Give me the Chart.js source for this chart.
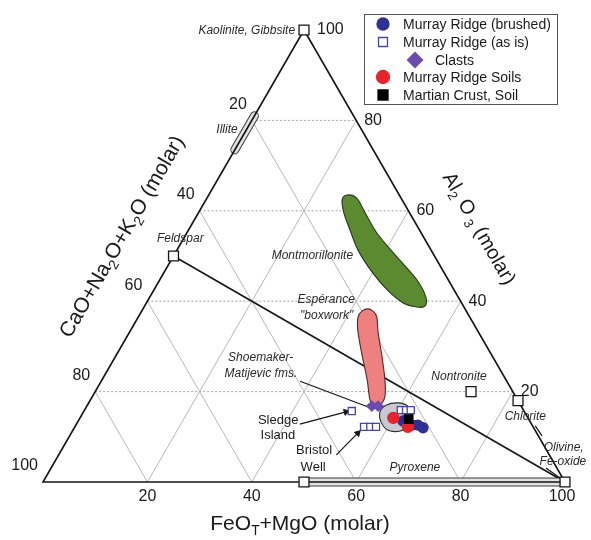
<!DOCTYPE html>
<html>
<head>
<meta charset="utf-8">
<script src="https://cdn.jsdelivr.net/npm/chart.js@4.4.1/dist/chart.umd.min.js"></script>
<style>
  body { margin: 0; background: #fff; }
  canvas { display: block; }
</style>
</head>
<body>
<canvas id="ternary" width="591" height="540"></canvas>
<script>
// every point is [FeOT+MgO, Al2O3] in molar %, CaO+Na2O+K2O is what is left
const gridSteps = [20, 40, 60, 80];
const tickValues = [20, 40, 60, 80, 100];

const murrayBrushed = [[62.2, 13.5], [64.4, 12.6], [65.5, 12.6], [66.8, 12.0]];
const murrayAsIs = [[51.3, 15.7], [55.4, 12.2], [56.6, 12.2], [57.7, 12.2], [60.6, 15.9], [61.6, 15.9], [62.5, 15.9]];
const clasts = [[54.6, 16.8], [55.8, 16.8]];
const soils = [[60.0, 14.2], [63.8, 12.2]];
const martianCrust = [[63.1, 13.9]];

// end members: kaolinite, feldspar, nontronite, chlorite, olivine, pyroxene (En/Fs)
const minerals = [[0, 100], [0, 50], [72, 20], [82, 18], [100, 0], [50, 0]];
const illiteRange = [[0, 73.5], [0, 81]];
const pyroxeneRange = [[50, 0], [100, 0]];
const feldsparOlivine = [[0, 50], [100, 0]];

const montmorillonite = [[26.1, 62.4], [26.5, 63.5], [28.7, 62.8], [31.8, 59.7], [36.4, 55.1], [42.9, 49.8],
  [49.3, 44.7], [52.9, 40.9], [53.7, 38.9], [52.3, 38.7], [49.2, 39.6], [44.7, 42.5], [40.1, 46.2],
  [34.7, 51.3], [30.9, 55.8], [27.9, 59.5]];
const esperance = [[43.1, 38.3], [44.3, 37.8], [45.7, 36.5], [47.7, 33.0], [51.1, 27.7], [54.2, 22.6],
  [55.9, 19.3], [56.2, 17.5], [55.1, 17.0], [53.6, 18.1], [50.8, 22.6], [46.8, 28.5], [43.5, 33.6],
  [42.1, 36.5], [42.2, 37.8]];
const murrayField = [[56.8, 15.5], [57.2, 17.0], [59.3, 17.5], [61.5, 16.8], [63.2, 15.0], [63.9, 12.8],
  [62.8, 11.3], [60.3, 11.5], [58.1, 13.3]];

const leaders = [
  [[38.1, 22.3], [54.0, 16.6]],
  [[42.8, 12.8], [50.3, 15.5]],
  [[53.2, 6.0], [54.9, 10.8]],
  [[88.1, 12.4], [90.5, 10.2]],
  [[94.8, 3.1], [98.6, 0.9]]
];
const arrowLeaders = [1, 2];

const notes = [
  { text: 'Kaolinite, Gibbsite', at: [-1.6, 99.8], align: 'right' },
  { text: 'Illite', at: [-3.7, 77.9] },
  { text: 'Feldspar', at: [-0.6, 53.8] },
  { text: 'Montmorillonite', at: [34.4, 50.0], align: 'right' },
  { text: 'Espérance', at: [34.1, 40.3] },
  { text: '"boxwork"', at: [36.0, 36.7] },
  { text: 'Shoemaker-', at: [28.0, 27.4] },
  { text: 'Matijevic fms.', at: [29.8, 23.9] },
  { text: 'Sledge', at: [38.2, 13.7], plain: true },
  { text: 'Island', at: [39.8, 10.4], plain: true },
  { text: 'Bristol', at: [48.5, 6.9], plain: true },
  { text: 'Well', at: [50.1, 3.3], plain: true },
  { text: 'Nontronite', at: [68.1, 23.2] },
  { text: 'Chlorite', at: [85.2, 14.4] },
  { text: 'Olivine,', at: [95.9, 7.7] },
  { text: 'Fe-oxide', at: [97.4, 4.4] },
  { text: 'Pyroxene', at: [69.7, 3.1] }
];

const FONT = 'Arial, "Liberation Sans", Helvetica, sans-serif';
const H = Math.sqrt(3) / 2;
const toXY = ([fm, al]) => ({ x: fm + al / 2, y: al * H });
const GAP = { x: null, y: null };

function segments(list) {
  const out = [];
  list.forEach(([a, b]) => out.push(toXY(a), toXY(b), GAP));
  return out;
}

const horizontal = segments(gridSteps.map(v => [[0, v], [100 - v, v]]));
const diagonal = segments(gridSteps.flatMap(v => [[[v, 0], [v, 100 - v]], [[100 - v, 0], [0, 100 - v]]]));

const arrowHeads = arrowLeaders.map(i => toXY(leaders[i][1]));
const arrowAngles = arrowLeaders.map(i => {
  const a = toXY(leaders[i][0]), b = toXY(leaders[i][1]);
  return Math.atan2(b.x - a.x, b.y - a.y) * 180 / Math.PI;
});

function lineSet(label, data, color, width, order, extra) {
  return Object.assign({ label, data, showLine: true, pointRadius: 0, borderColor: color,
    borderWidth: width, order, clip: false, spanGaps: false }, extra || {});
}

function pointSet(label, data, style, radius, fill, stroke, order) {
  return { label, data: data.map(toXY), pointStyle: style, pointRadius: radius,
    backgroundColor: fill, borderColor: stroke, borderWidth: 1.3, order, clip: false };
}

const pxOf = (chart, p) => {
  const q = toXY(p);
  return { x: chart.scales.x.getPixelForValue(q.x), y: chart.scales.y.getPixelForValue(q.y) };
};

function smoothShape(ctx, pts) {
  const n = pts.length;
  ctx.beginPath();
  ctx.moveTo(pts[0].x, pts[0].y);
  for (let i = 0; i < n; i++) {
    const p0 = pts[(i - 1 + n) % n], p1 = pts[i], p2 = pts[(i + 1) % n], p3 = pts[(i + 2) % n];
    ctx.bezierCurveTo(p1.x + (p2.x - p0.x) / 6, p1.y + (p2.y - p0.y) / 6,
      p2.x - (p3.x - p1.x) / 6, p2.y - (p3.y - p1.y) / 6, p2.x, p2.y);
  }
  ctx.closePath();
}

const fields = [
  { pts: montmorillonite, fill: '#5c8a30', stroke: '#26361a' },
  { pts: esperance, fill: '#ef8080', stroke: '#5a2626' },
  { pts: murrayField, fill: '#c9c9d2', stroke: '#2a2a2a' }
];

const fieldPlugin = {
  id: 'fields',
  afterDatasetDraw(chart, args) {
    if (chart.data.datasets[args.index].label !== 'mixing') return;
    const ctx = chart.ctx;
    ctx.save();
    fields.forEach(f => {
      smoothShape(ctx, f.pts.map(p => pxOf(chart, p)));
      ctx.fillStyle = f.fill;
      ctx.fill();
      ctx.lineWidth = 1.1;
      ctx.strokeStyle = f.stroke;
      ctx.stroke();
    });
    ctx.restore();
  }
};

function richText(ctx, parts, cx, cy, size, angle) {
  ctx.save();
  ctx.translate(cx, cy);
  ctx.rotate(angle);
  const sub = size * 0.66;
  let total = 0;
  const widths = parts.map(([t, s]) => {
    ctx.font = (s ? sub : size) + 'px ' + FONT;
    const w = ctx.measureText(t).width;
    total += w;
    return w;
  });
  let x = -total / 2;
  ctx.textAlign = 'left';
  ctx.textBaseline = 'alphabetic';
  ctx.fillStyle = '#1a1a1a';
  parts.forEach(([t, s], i) => {
    ctx.font = (s ? sub : size) + 'px ' + FONT;
    ctx.fillText(t, x, size * 0.36 + (s ? size * 0.24 : 0));
    x += widths[i];
  });
  ctx.restore();
}

function marker(ctx, ds, x, y, r) {
  ctx.save();
  ctx.fillStyle = ds.backgroundColor;
  ctx.strokeStyle = ds.borderColor;
  ctx.lineWidth = ds.borderWidth;
  ctx.beginPath();
  if (ds.pointStyle === 'circle') {
    ctx.arc(x, y, r, 0, Math.PI * 2);
  } else if (ds.pointStyle === 'rect') {
    ctx.rect(x - r, y - r, 2 * r, 2 * r);
  } else {
    ctx.moveTo(x, y - r); ctx.lineTo(x + r, y); ctx.lineTo(x, y + r); ctx.lineTo(x - r, y); ctx.closePath();
  }
  ctx.fill();
  ctx.stroke();
  ctx.restore();
}

const textPlugin = {
  id: 'texts',
  afterDatasetsDraw(chart) {
    const ctx = chart.ctx;
    ctx.save();
    ctx.fillStyle = '#1a1a1a';
    ctx.textBaseline = 'middle';
    ctx.font = '16px ' + FONT;
    tickValues.forEach(v => {
      let p = pxOf(chart, [0, 100 - v]);
      ctx.textAlign = 'right';
      ctx.fillText(String(v), p.x - 5, p.y - 16);
      p = pxOf(chart, [100 - v, v]);
      ctx.textAlign = 'left';
      ctx.fillText(String(v), p.x + (v === 100 ? 13 : 8), p.y);
      p = pxOf(chart, [v, 0]);
      ctx.textAlign = 'center';
      ctx.fillText(String(v), p.x - (v === 100 ? 3 : 0), p.y + 15);
    });

    notes.forEach(n => {
      const p = pxOf(chart, n.at);
      ctx.font = (n.plain ? '13px ' : 'italic 12px ') + FONT;
      ctx.fillStyle = n.plain ? '#1a1a1a' : '#2a2a2a';
      ctx.textAlign = n.align || 'center';
      ctx.fillText(n.text, p.x, p.y);
    });
    ctx.restore();

    richText(ctx, [['FeO', 0], ['T', 1], ['+MgO (molar)', 0]], 300, 522, 21, 0);
    richText(ctx, [['CaO+Na', 0], ['2', 1], ['O+K', 0], ['2', 1], ['O (molar)', 0]], 121, 236, 21, -Math.PI / 3);
    richText(ctx, [['Al', 0], ['2', 1], [' O', 0], [' 3', 1], [' (molar)', 0]], 480, 228, 20, Math.PI / 3);

    // legend
    const ds = chart.data.datasets;
    const find = l => ds.find(d => d.label === l);
    ctx.save();
    ctx.fillStyle = '#fff';
    ctx.fillRect(364.5, 14.5, 193, 90);
    ctx.strokeStyle = '#555';
    ctx.lineWidth = 1;
    ctx.strokeRect(364.5, 14.5, 193, 90);
    const rows = [
      ['Murray Ridge (brushed)', 24, 0, 6],
      ['Murray Ridge (as is)', 42, 0, 4.5],
      ['Clasts', 60, 32, 7.5],
      ['Murray Ridge Soils', 77, 0, 6.5],
      ['Martian Crust, Soil', 95, 0, 5]
    ];
    rows.forEach(([label, y, indent, r]) => {
      marker(ctx, find(label), 383 + indent, y, r);
      ctx.fillStyle = '#1a1a1a';
      ctx.font = '14px ' + FONT;
      ctx.textAlign = 'left';
      ctx.textBaseline = 'middle';
      ctx.fillText(label, 403 + indent, y + 1);
    });
    ctx.restore();
  }
};

new Chart(document.getElementById('ternary').getContext('2d'), {
  type: 'scatter',
  data: {
    datasets: [
      lineSet('grid-h', horizontal, '#a3a3a3', 1, 100, { borderDash: [2, 2] }),
      lineSet('grid-d', diagonal, '#b8b8b8', 1, 99),
      lineSet('mixing', feldsparOlivine.map(toXY), '#151515', 1.6, 90),
      lineSet('bar-edge', [...illiteRange.map(toXY), GAP, ...pyroxeneRange.map(toXY)], '#3a3a3a', 9, 80, { borderCapStyle: 'round' }),
      lineSet('bar-fill', [...illiteRange.map(toXY), GAP, ...pyroxeneRange.map(toXY)], '#e2e2e2', 7, 79, { borderCapStyle: 'round' }),
      lineSet('triangle', [[0, 100], [0, 0], [100, 0], [0, 100]].map(toXY), '#151515', 1.6, 70),
      lineSet('leaders', segments(leaders), '#151515', 1.2, 60),
      { label: 'arrows', data: arrowHeads, pointStyle: 'triangle', pointRadius: 3.5, rotation: arrowAngles,
        backgroundColor: '#151515', borderColor: '#151515', borderWidth: 1, order: 59, clip: false },
      pointSet('minerals', minerals, 'rect', 7, '#ffffff', '#151515', 50),
      pointSet('Clasts', clasts, 'rectRot', 5, '#6a4cae', '#6a4cae', 40),
      pointSet('Murray Ridge (as is)', murrayAsIs, 'rect', 5, '#ffffff', '#46469e', 35),
      pointSet('Murray Ridge (brushed)', murrayBrushed, 'circle', 5, '#2e3192', '#2e3192', 30),
      pointSet('Murray Ridge Soils', soils, 'circle', 5.5, '#e5252b', '#e5252b', 20),
      pointSet('Martian Crust, Soil', martianCrust, 'rect', 6, '#000000', '#000000', 10)
    ]
  },
  options: {
    responsive: false,
    animation: false,
    events: [],
    layout: { padding: { left: 43, right: 26, top: 30, bottom: 58 } },
    scales: {
      x: { type: 'linear', min: 0, max: 100, display: false },
      y: { type: 'linear', min: 0, max: 100 * H, display: false }
    },
    plugins: { legend: { display: false }, tooltip: { enabled: false } }
  },
  plugins: [fieldPlugin, textPlugin]
});
</script>
</body>
</html>
